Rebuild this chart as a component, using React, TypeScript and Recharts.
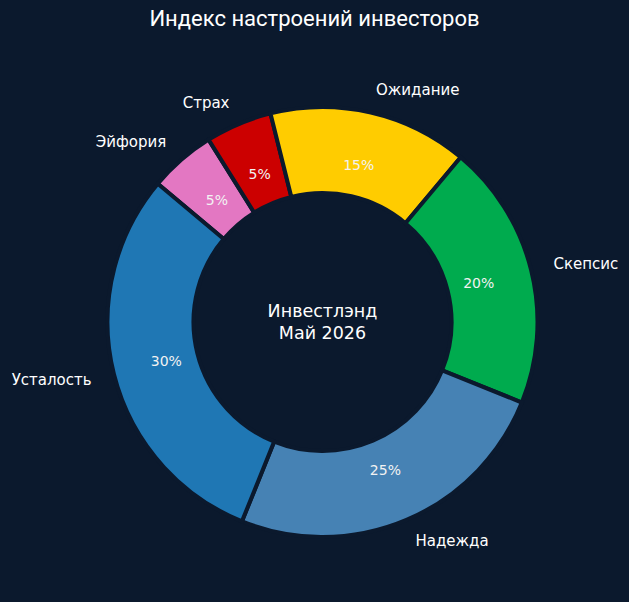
import React from "react";
import { PieChart, Pie, Cell } from "recharts";

const categories = ["Эйфория", "Страх", "Ожидание", "Скепсис", "Надежда", "Усталость"];
const values = [5, 5, 15, 20, 25, 30];
const colors = ["#e377c2", "#cc0000", "#ffcc00", "#00ab4e", "#4682b4", "#1f77b4"];
const title = "Индекс настроений инвесторов";
const centerLines = ["Инвестлэнд", "Май 2026"];

const BG = "#0b192d";
const TITLE_FONT = "Roboto, 'DejaVu Sans', sans-serif";
const FONT = "'DejaVu Sans', sans-serif";
const RAD = Math.PI / 180;

const data = categories.map((name, i) => ({ name, value: values[i] }));

const renderLabel = (props: any) => {
  const { cx, cy, midAngle, index, name, value } = props;
  const cosA = Math.cos(-midAngle * RAD);
  const sinA = Math.sin(-midAngle * RAD);
  const rIn = 161;
  const rOut = 238;
  const px = cx + rIn * cosA;
  const py = cy + rIn * sinA;
  const lx = cx + rOut * cosA;
  const ly = cy + rOut * sinA;
  return (
    <g>
      <text x={px} y={py} fill="#f2f2f2" fontSize={14} fontFamily={FONT} textAnchor="middle" dominantBaseline="central">
        {`${value}%`}
      </text>
      <text x={lx} y={ly} fill="#ffffff" fontSize={15} fontFamily={FONT} textAnchor={cosA >= 0 ? "start" : "end"} dominantBaseline="central">
        {name}
      </text>
      {index === 0 ? (
        <text x={cx} y={cy} fill="#ffffff" fontSize={17.5} fontFamily={FONT} textAnchor="middle">
          <tspan x={cx} y={cy - 11} dominantBaseline="central">{centerLines[0]}</tspan>
          <tspan x={cx} y={cy + 11} dominantBaseline="central">{centerLines[1]}</tspan>
        </text>
      ) : null}
    </g>
  );
};

export default function App() {
  return (
    <div style={{ position: "absolute", left: 0, top: 0, width: 629, height: 602, background: BG }}>
      <div
        style={{
          position: "absolute",
          left: 0,
          top: 5,
          width: 629,
          textAlign: "center",
          color: "#ffffff",
          fontFamily: TITLE_FONT,
          fontSize: 22,
          lineHeight: "28px",
        }}
      >
        {title}
      </div>
      <PieChart
        width={629}
        height={602}
        margin={{ top: 0, right: 0, bottom: 0, left: 0 }}
        style={{ position: "absolute", left: 0, top: 0 }}
      >
        <Pie
          data={data}
          dataKey="value"
          nameKey="name"
          cx={322.5}
          cy={322}
          innerRadius={129}
          outerRadius={215}
          startAngle={140}
          endAngle={-220}
          stroke={BG}
          strokeWidth={4}
          label={renderLabel}
          labelLine={false}
          isAnimationActive={false}
        >
          {data.map((d, i) => (
            <Cell key={d.name} fill={colors[i]} />
          ))}
        </Pie>
      </PieChart>
    </div>
  );
}
